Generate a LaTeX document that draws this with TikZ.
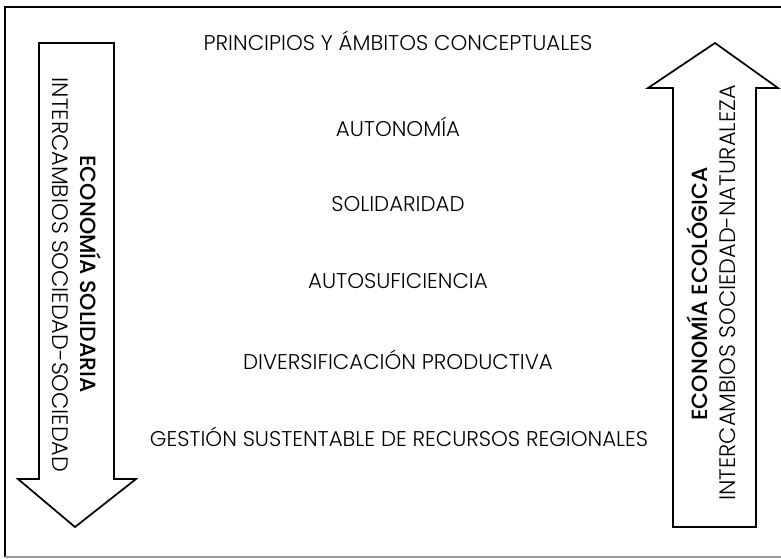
\documentclass[tikz,border=0pt]{standalone}
\usepackage{fontspec}
\setmainfont{Poppins Light}[BoldFont=Poppins Medium]
\begin{document}
\begin{tikzpicture}[x=0.75pt, y=-0.75pt,
    concepto/.style={font=\fontsize{16}{19}\selectfont, inner sep=0pt},
    lado/.style={font=\fontsize{16.8}{20}\selectfont, inner sep=0pt},
    eje/.style={font=\fontsize{16.5}{20}\selectfont\bfseries, inner sep=0pt},
    flecha/.style={draw, line width=1.3pt, line join=miter}]
	\useasboundingbox (0,0) rectangle (781,558);

	%frame
	\draw[line width=1.3pt] (781,7) -- (5,7) -- (5,557);
	\draw[line width=1.3pt, black!40] (5,557) -- (781,557);

	%arrows
	\draw[flecha] (39,43) -- (114,43) -- (114,479) -- (136,479) -- (75,527) -- (18,479) -- (39,479) -- cycle;
	\draw[flecha] (673,527) -- (673,88) -- (648,88) -- (715,43) -- (778,88) -- (756,88) -- (756,527) -- cycle;

	%principles
	\node[concepto] (titulo) at (398,41) {PRINCIPIOS Y ÁMBITOS CONCEPTUALES};
	\node[concepto] (autonomia) at (398,127) {AUTONOMÍA};
	\node[concepto] (solidaridad) at (398,204) {SOLIDARIDAD};
	\node[concepto] (autosuficiencia) at (398,281) {AUTOSUFICIENCIA};
	\node[concepto] (diversificacion) at (398,360) {DIVERSIFICACIÓN PRODUCTIVA};
	\node[concepto] (gestion) at (399,437) {GESTIÓN SUSTENTABLE DE RECURSOS REGIONALES};

	%axis labels
	\node[eje, rotate=-90] (solidaria) at (91,274) {ECONOMÍA SOLIDARIA};
	\node[lado, rotate=-90] (socsoc) at (60,275) {INTERCAMBIOS SOCIEDAD-SOCIEDAD};
	\node[eje, rotate=90] (ecologica) at (697,294) {ECONOMÍA ECOLÓGICA};
	\node[lado, rotate=90] (socnat) at (728,293) {INTERCAMBIOS SOCIEDAD-NATURALEZA};
\end{tikzpicture}
\end{document}
